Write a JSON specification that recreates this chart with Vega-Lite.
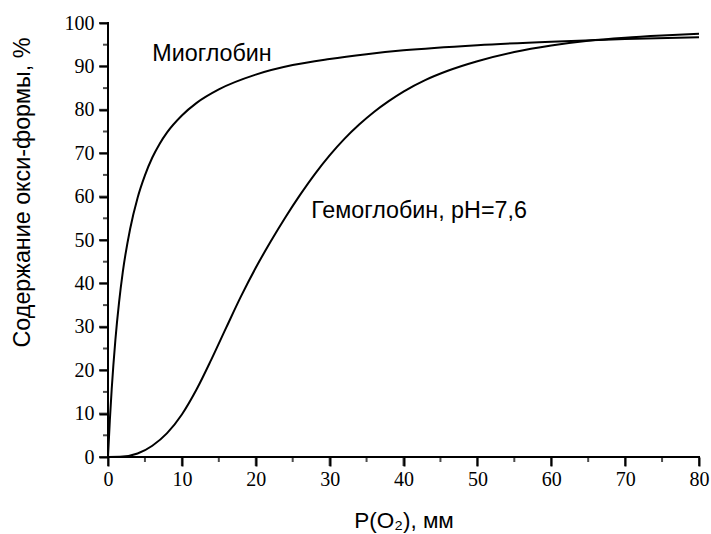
{
  "$schema": "https://vega.github.io/schema/vega-lite/v6.json",
  "autosize": {"type": "none"},
  "padding": {"left": 108, "top": 23, "right": 12, "bottom": 77},
  "width": 591,
  "height": 434,
  "background": "white",
  "config": {
    "view": {"stroke": null},
    "font": "Liberation Sans"
  },
  "datasets": {
    "curves": [
      {"series": "Mb", "P": 0, "Y": 0},
      {"series": "Mb", "P": 0.25, "Y": 8.5},
      {"series": "Mb", "P": 0.5, "Y": 15.6},
      {"series": "Mb", "P": 1, "Y": 27.0},
      {"series": "Mb", "P": 1.5, "Y": 35.7},
      {"series": "Mb", "P": 2, "Y": 42.6},
      {"series": "Mb", "P": 3, "Y": 52.6},
      {"series": "Mb", "P": 4, "Y": 59.7},
      {"series": "Mb", "P": 5, "Y": 64.9},
      {"series": "Mb", "P": 6, "Y": 69.0},
      {"series": "Mb", "P": 7, "Y": 72.2},
      {"series": "Mb", "P": 8, "Y": 74.8},
      {"series": "Mb", "P": 10, "Y": 78.7},
      {"series": "Mb", "P": 12, "Y": 81.6},
      {"series": "Mb", "P": 15, "Y": 84.7},
      {"series": "Mb", "P": 20, "Y": 88.1},
      {"series": "Mb", "P": 25, "Y": 90.3},
      {"series": "Mb", "P": 30, "Y": 91.7},
      {"series": "Mb", "P": 35, "Y": 92.8},
      {"series": "Mb", "P": 40, "Y": 93.7},
      {"series": "Mb", "P": 50, "Y": 94.9},
      {"series": "Mb", "P": 60, "Y": 95.7},
      {"series": "Mb", "P": 70, "Y": 96.3},
      {"series": "Mb", "P": 80, "Y": 96.7},
      {"series": "Hb", "P": 0, "Y": 0},
      {"series": "Hb", "P": 2, "Y": 0.1},
      {"series": "Hb", "P": 4, "Y": 0.8},
      {"series": "Hb", "P": 6, "Y": 2.6},
      {"series": "Hb", "P": 8, "Y": 5.5},
      {"series": "Hb", "P": 10, "Y": 9.8},
      {"series": "Hb", "P": 12, "Y": 15.6},
      {"series": "Hb", "P": 14, "Y": 22.5},
      {"series": "Hb", "P": 16, "Y": 29.8},
      {"series": "Hb", "P": 18, "Y": 37.0},
      {"series": "Hb", "P": 20, "Y": 43.6},
      {"series": "Hb", "P": 22, "Y": 49.6},
      {"series": "Hb", "P": 24, "Y": 55.2},
      {"series": "Hb", "P": 26, "Y": 60.4},
      {"series": "Hb", "P": 28, "Y": 65.2},
      {"series": "Hb", "P": 30, "Y": 69.5},
      {"series": "Hb", "P": 32, "Y": 73.3},
      {"series": "Hb", "P": 34, "Y": 76.6},
      {"series": "Hb", "P": 36, "Y": 79.5},
      {"series": "Hb", "P": 38, "Y": 82.0},
      {"series": "Hb", "P": 40, "Y": 84.2},
      {"series": "Hb", "P": 43, "Y": 86.9},
      {"series": "Hb", "P": 46, "Y": 89.0},
      {"series": "Hb", "P": 50, "Y": 91.2},
      {"series": "Hb", "P": 55, "Y": 93.3},
      {"series": "Hb", "P": 60, "Y": 94.8},
      {"series": "Hb", "P": 65, "Y": 95.9},
      {"series": "Hb", "P": 70, "Y": 96.6},
      {"series": "Hb", "P": 75, "Y": 97.1},
      {"series": "Hb", "P": 80, "Y": 97.5}
    ],
    "labels": [
      {"P": 6.0, "Y": 91.3, "label": "Миоглобин"},
      {"P": 27.5, "Y": 55.0, "label": "Гемоглобин, pH=7,6"}
    ],
    "axislines": [
      {"ax": "x", "P": 0, "Y": 0},
      {"ax": "x", "P": 80, "Y": 0},
      {"ax": "y", "P": 0, "Y": 0},
      {"ax": "y", "P": 0, "Y": 100}
    ],
    "xmajor": [{"P": 0, "Y": 0}, {"P": 10, "Y": 0}, {"P": 20, "Y": 0}, {"P": 30, "Y": 0}, {"P": 40, "Y": 0}, {"P": 50, "Y": 0}, {"P": 60, "Y": 0}, {"P": 70, "Y": 0}, {"P": 80, "Y": 0}],
    "xminor": [{"P": 5, "Y": 0}, {"P": 15, "Y": 0}, {"P": 25, "Y": 0}, {"P": 35, "Y": 0}, {"P": 45, "Y": 0}, {"P": 55, "Y": 0}, {"P": 65, "Y": 0}, {"P": 75, "Y": 0}],
    "ymajor": [{"P": 0, "Y": 0}, {"P": 0, "Y": 10}, {"P": 0, "Y": 20}, {"P": 0, "Y": 30}, {"P": 0, "Y": 40}, {"P": 0, "Y": 50}, {"P": 0, "Y": 60}, {"P": 0, "Y": 70}, {"P": 0, "Y": 80}, {"P": 0, "Y": 90}, {"P": 0, "Y": 100}],
    "yminor": [{"P": 0, "Y": 5}, {"P": 0, "Y": 15}, {"P": 0, "Y": 25}, {"P": 0, "Y": 35}, {"P": 0, "Y": 45}, {"P": 0, "Y": 55}, {"P": 0, "Y": 65}, {"P": 0, "Y": 75}, {"P": 0, "Y": 85}, {"P": 0, "Y": 95}]
  },
  "encoding": {
    "x": {
      "field": "P", "type": "quantitative",
      "scale": {"domain": [0, 80], "nice": false, "zero": false},
      "axis": {
        "orient": "bottom",
        "domain": false, "ticks": true, "grid": false,
        "tickColor": "#000000", "tickWidth": 2,
        "values": [0, 10, 20, 30, 40, 50, 60, 70, 80],
        "title": "P(O₂), мм",
        "tickSize": 9,
        "labelFont": "Liberation Serif", "labelFontSize": 20, "labelColor": "#000000",
        "labelPadding": 3, "labelFlush": false, "labelOverlap": false,
        "titleFont": "Liberation Sans", "titleFontSize": 22.5, "titleFontWeight": "normal", "titleColor": "#000000",
        "titlePadding": 20
      }
    },
    "y": {
      "field": "Y", "type": "quantitative",
      "scale": {"domain": [0, 100], "nice": false, "zero": false},
      "axis": {
        "orient": "left",
        "domain": false, "ticks": true, "grid": false,
        "tickColor": "#000000", "tickWidth": 2,
        "values": [0, 10, 20, 30, 40, 50, 60, 70, 80, 90, 100],
        "title": "Содержание окси-формы, %",
        "tickSize": 9,
        "labelFont": "Liberation Serif", "labelFontSize": 20, "labelColor": "#000000",
        "labelPadding": 5, "labelFlush": false, "labelOverlap": false,
        "titleFont": "Liberation Sans", "titleFontSize": 23.3, "titleFontWeight": "normal", "titleColor": "#000000",
        "titlePadding": 30, "titleY": 169
      }
    }
  },
  "layer": [
    {
      "data": {"name": "axislines"},
      "mark": {"type": "line", "color": "black", "strokeWidth": 2, "strokeCap": "square"},
      "encoding": {
        "detail": {"field": "ax", "type": "nominal"}
      }
    },
    {
      "data": {"name": "xmajor"},
      "mark": {"type": "tick", "orient": "vertical", "color": "black", "thickness": 2, "size": 9, "yOffset": 4.5}
    },
    {
      "data": {"name": "xminor"},
      "mark": {"type": "tick", "orient": "vertical", "color": "black", "thickness": 2, "size": 5, "yOffset": 2.5}
    },
    {
      "data": {"name": "ymajor"},
      "mark": {"type": "tick", "orient": "horizontal", "color": "black", "thickness": 2, "size": 9, "xOffset": -4.5}
    },
    {
      "data": {"name": "yminor"},
      "mark": {"type": "tick", "orient": "horizontal", "color": "black", "thickness": 2, "size": 5, "xOffset": -2.5}
    },
    {
      "data": {"name": "curves"},
      "mark": {"type": "line", "color": "black", "strokeWidth": 2, "interpolate": "monotone"},
      "encoding": {
        "detail": {"field": "series", "type": "nominal"}
      }
    },
    {
      "data": {"name": "labels"},
      "mark": {"type": "text", "align": "left", "baseline": "alphabetic", "fontSize": 23.3, "font": "Liberation Sans", "color": "black"},
      "encoding": {
        "text": {"field": "label", "type": "nominal"}
      }
    }
  ]
}
